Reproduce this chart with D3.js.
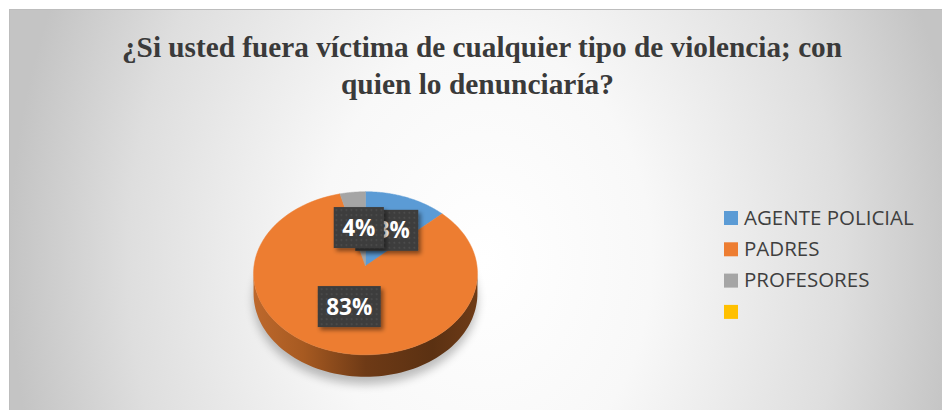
<!DOCTYPE html>
<html>
<head>
<meta charset="utf-8">
<script src="https://cdn.jsdelivr.net/npm/d3@7/dist/d3.min.js"></script>
<style>
  html, body { margin: 0; padding: 0; background: #ffffff; }
  svg { display: block; }
</style>
</head>
<body>
<svg id="chart" width="942" height="410"></svg>
<script>
// Survey answers: who would the respondent report violence to
const categories = ["AGENTE POLICIAL", "PADRES", "PROFESORES", ""];
const values = [13, 83, 4, 0];
const colors = ["#5B9BD5", "#ED7D31", "#A5A5A5", "#FFC000"];
const titleLines = [
  "¿Si usted fuera víctima de cualquier tipo de violencia; con",
  "quien lo denunciaría?"
];

const W = 942, H = 410;
const svg = d3.select("#chart");
const defs = svg.append("defs");

// ---- background: wide radial gradient panel ----
const bg = defs.append("radialGradient")
  .attr("id", "bgGrad")
  .attr("gradientUnits", "userSpaceOnUse")
  .attr("cx", 0).attr("cy", 0).attr("r", 1)
  .attr("gradientTransform", "translate(485,260) scale(476,620)");
bg.append("stop").attr("offset", 0).attr("stop-color", "#ffffff");
bg.append("stop").attr("offset", 0.35).attr("stop-color", "#f8f8f8");
bg.append("stop").attr("offset", 0.75).attr("stop-color", "#dedede");
bg.append("stop").attr("offset", 1).attr("stop-color", "#c4c4c4");

svg.append("rect")
  .attr("x", 9.5).attr("y", 9.5)
  .attr("width", 945).attr("height", 420)
  .attr("fill", "url(#bgGrad)")
  .attr("stroke", "#bdbdbd").attr("stroke-width", 1);

// ---- title ----
const titleWidths = [720, 273];
const title = svg.append("g")
  .attr("font-family", "'Liberation Serif', 'Times New Roman', serif")
  .attr("font-weight", "bold")
  .attr("font-size", 30)
  .attr("fill", "#3a3a3a")
  .attr("text-anchor", "middle");
titleLines.forEach((t, i) => {
  title.append("text")
    .attr("x", i === 0 ? 482 : 477.5)
    .attr("y", 57 + i * 37)
    .attr("textLength", titleWidths[i])
    .attr("lengthAdjust", "spacingAndGlyphs")
    .text(t);
});

// ---- 3D pie with mild perspective ----
const cx = 365.5, cy = 266;   // apex of the top face
const R = 111.5;              // horizontal radius
const RY = 80.9;              // vertical radius before perspective
const depth = 20;             // thickness of the pie
const persp = 0.089;          // perspective strength (far side smaller)

function proj(theta, r, h) {
  const s = Math.sin(theta), c = Math.cos(theta);
  const p = 1 / (1 + persp * r * c);
  return [cx + R * r * s * p, cy - RY * r * c * p + h * p];
}

function arcPoints(a0, a1, h, n) {
  const pts = [];
  for (let i = 0; i <= n; i++) {
    const t = a0 + (a1 - a0) * i / n;
    pts.push(proj(t, 1, h));
  }
  return pts;
}

const pie = d3.pie().sort(null).value(d => d.value)
  .startAngle(0).endAngle(2 * Math.PI);
const data = categories.map((c, i) => ({ name: c, value: values[i], color: colors[i] }));
const arcs = pie(data);

const line = d3.line();

// soft shadow beneath the pie
const shadowF = defs.append("filter").attr("id", "pieShadow")
  .attr("x", "-20%").attr("y", "-20%").attr("width", "140%").attr("height", "150%");
shadowF.append("feGaussianBlur").attr("stdDeviation", 5);

const pieG = svg.append("g");
const baseOutline = arcPoints(0, 2 * Math.PI, depth + 4, 120);
pieG.append("path")
  .attr("d", line(baseOutline) + "Z")
  .attr("transform", "translate(0,3)")
  .attr("fill", "#000")
  .attr("opacity", 0.25)
  .attr("filter", "url(#pieShadow)");

// side wall shading
const sideGrad = defs.append("linearGradient")
  .attr("id", "sideGrad")
  .attr("gradientUnits", "userSpaceOnUse")
  .attr("x1", cx - R).attr("x2", cx + R).attr("y1", 0).attr("y2", 0);
[[0, "#bd682c"], [0.22, "#a75a21"], [0.5, "#6e3a16"], [0.8, "#5b3112"], [1, "#6e3b17"]]
  .forEach(([o, c]) => sideGrad.append("stop").attr("offset", o).attr("stop-color", c));

// visible part of the rim (front half, widened slightly by perspective)
const visA = Math.acos(-persp), visB = 2 * Math.PI - visA;
arcs.forEach(a => {
  const s = Math.max(a.startAngle, visA), e = Math.min(a.endAngle, visB);
  if (e <= s) return;
  const top = arcPoints(s, e, 0, 80);
  const bottom = arcPoints(e, s, depth, 80);
  pieG.append("path")
    .attr("d", line(top.concat(bottom)) + "Z")
    .attr("fill", a.index === 1 ? "url(#sideGrad)" : d3.color(a.data.color).darker(1.2));
});

// top faces
arcs.forEach(a => {
  if (a.endAngle - a.startAngle <= 0) return;
  const pts = [proj(0, 0, 0)].concat(arcPoints(a.startAngle, a.endAngle, 0, 90));
  pieG.append("path")
    .attr("d", line(pts) + "Z")
    .attr("fill", a.data.color)
    .attr("stroke", a.data.color)
    .attr("stroke-width", 0.5);
});

// ---- data labels: dark dotted boxes ----
const pat = defs.append("pattern").attr("id", "dots")
  .attr("patternUnits", "userSpaceOnUse")
  .attr("width", 5).attr("height", 5);
pat.append("rect").attr("width", 5).attr("height", 5).attr("fill", "#3d3d3d");
pat.append("circle").attr("cx", 2.5).attr("cy", 2.5).attr("r", 0.8).attr("fill", "#565656");

const boxShadow = defs.append("filter").attr("id", "boxShadow")
  .attr("x", "-30%").attr("y", "-30%").attr("width", "170%").attr("height", "170%");
boxShadow.append("feDropShadow")
  .attr("dx", 2.5).attr("dy", 3).attr("stdDeviation", 2.2)
  .attr("flood-color", "#000").attr("flood-opacity", 0.45);

const labelG = svg.append("g");
arcs.forEach(a => {
  if (a.data.value <= 0) return;
  const mid = (a.startAngle + a.endAngle) / 2;
  const [lx, ly] = proj(mid, 0.5, 0);
  const g = labelG.append("g").attr("transform", `translate(${lx},${ly})`);
  const rect = g.append("rect").attr("fill", "url(#dots)").attr("filter", "url(#boxShadow)");
  const txt = g.append("text")
    .attr("text-anchor", "middle")
    .attr("dy", "0.36em")
    .attr("font-family", "'Open Sans', 'DejaVu Sans', sans-serif")
    .attr("font-weight", "bold")
    .attr("font-size", 22.5)
    .attr("fill", "#ffffff")
    .text(a.data.value + "%");
  const tw = txt.node().getComputedTextLength();
  const bw = tw + 17, bh = 41;
  rect.attr("x", -bw / 2).attr("y", -bh / 2).attr("width", bw).attr("height", bh);
});

// ---- legend ----
const legend = svg.append("g").attr("transform", "translate(724,211)");
categories.forEach((c, i) => {
  const row = legend.append("g").attr("transform", `translate(0,${i * 31.3})`);
  row.append("rect").attr("width", 14).attr("height", 14).attr("fill", colors[i]);
  row.append("text")
    .attr("x", 20).attr("y", 13.5)
    .attr("font-family", "'Open Sans', 'DejaVu Sans', sans-serif")
    .attr("font-size", 20.5)
    .attr("fill", "#3f3f3f")
    .text(c);
});
</script>
</body>
</html>
